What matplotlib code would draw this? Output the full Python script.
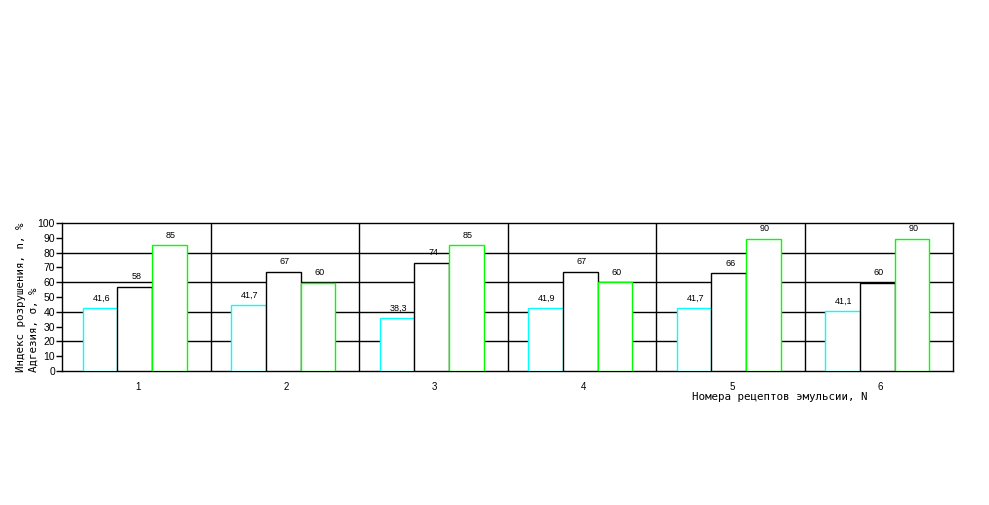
import numpy as np
import matplotlib
matplotlib.use("Agg")
import matplotlib.pyplot as plt

recipes = ["1", "2", "3", "4", "5", "6"]
h_cyan = [42.5, 44.5, 35.5, 42.5, 42.5, 40.5]
h_black = [57, 67, 73, 67, 66, 59.5]
h_green = [85, 59.5, 85, 60, 89.5, 89.5]
lab_cyan = ["41,6", "41,7", "38,3", "41,9", "41,7", "41,1"]
lab_black = ["58", "67", "74", "67", "66", "60"]
lab_green = ["85", "60", "85", "60", "90", "90"]
yticks = np.arange(0, 101, 10)

mono = "DejaVu Sans Mono"
sans = "Liberation Sans"

fig = plt.figure(figsize=(9.89, 5.05), dpi=100)
ax = fig.add_axes([62/989, 134/505, 891/989, 148/505])

x = np.arange(len(recipes)) + 0.5 - 0.01
w = 0.234
series = [(h_cyan, lab_cyan, "#00ffff", -w),
          (h_black, lab_black, "black", 0),
          (h_green, lab_green, "#00ff00", w)]
for k, (vals, labs, col, off) in enumerate(series):
    bars = ax.bar(x + off, vals, width=w, facecolor="white", edgecolor=col,
                  linewidth=1.0, zorder=3 + k)
    for b, t in zip(bars, labs):
        ax.annotate(t, (b.get_x() + b.get_width()/2 + 0.01, b.get_height()),
                    xytext=(0, 4), textcoords="offset points",
                    ha="center", va="bottom", fontsize=6.5, family=sans)

for gy in [20, 40, 60, 80]:
    ax.axhline(gy, color="black", lw=1.0, zorder=1)
for gx in range(1, len(recipes)):
    ax.axvline(gx, color="black", lw=1.0, zorder=1)

ax.set_xlim(0, len(recipes))
ax.set_ylim(0, 100)
for s in ax.spines.values():
    s.set_linewidth(1.0)
ax.set_yticks(yticks)
ax.set_yticklabels([str(v) for v in yticks], family=sans, fontsize=7.5)
ax.tick_params(axis="y", direction="out", length=4, width=1, pad=1)
ax.set_xticks(np.arange(len(recipes)) + 0.5 + 0.01)
ax.set_xticklabels(recipes, family=sans, fontsize=7)
ax.tick_params(axis="x", length=0, pad=8)

fig.text(692/989, 1 - 396.5/505, "Номера рецептов эмульсии, N", family=mono,
         fontsize=7.8, ha="left", va="center")
fig.text(21/989, 1 - 372/505, "Индекс розрушения, n, %", family=mono,
         fontsize=7.8, rotation=90, ha="center", va="bottom")
fig.text(34/989, 1 - 372/505, "Адгезия, σ, %", family=mono,
         fontsize=7.8, rotation=90, ha="center", va="bottom")

fig.savefig("out.png", dpi=100)
